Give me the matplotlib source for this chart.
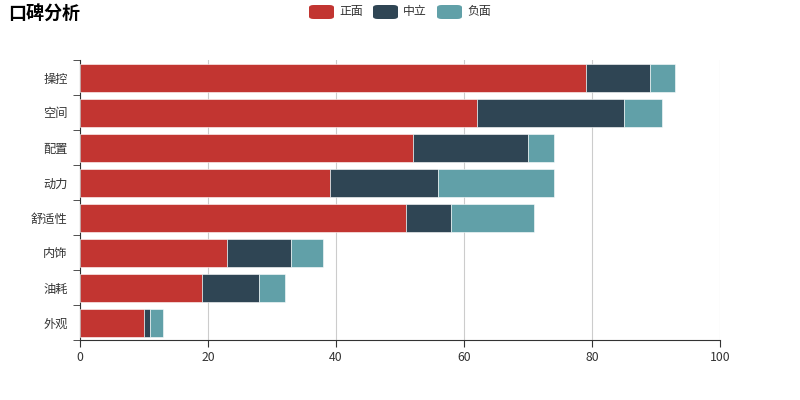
import matplotlib.pyplot as plt
import numpy as np
from matplotlib.patches import FancyBboxPatch

plt.rcParams['font.family'] = ['Noto Sans CJK SC', 'DejaVu Sans']

# data (top to bottom)
categories = ["操控", "空间", "配置", "动力", "舒适性", "内饰", "油耗", "外观"]
positive = [79, 62, 52, 39, 51, 23, 19, 10]
neutral = [10, 23, 18, 17, 7, 10, 9, 1]
negative = [4, 6, 4, 18, 13, 5, 4, 2]
series_names = ["正面", "中立", "负面"]
colors = ["#c23531", "#2f4554", "#61a0a8"]

fig = plt.figure(figsize=(8, 4), dpi=100)
ax = fig.add_axes([0.1, 0.15, 0.8, 0.7])

y = np.arange(len(categories))[::-1]
left = np.zeros(len(categories))
for vals, c, name in zip([positive, neutral, negative], colors, series_names):
    ax.barh(y, vals, left=left, height=0.8, color=c, edgecolor="white",
            linewidth=0.4, label=name, zorder=3)
    left = left + np.array(vals)

ax.set_xlim(0, 100)
ax.set_ylim(-0.5, len(categories) - 0.5)
ax.set_xticks([0, 20, 40, 60, 80, 100])
ax.set_yticks(y)
ax.set_yticklabels(categories)
ax.set_yticks(np.arange(-0.5, len(categories), 1), minor=True)
ax.tick_params(axis="y", which="major", length=0, pad=9)
ax.tick_params(axis="y", which="minor", length=5, color="#333333")
ax.tick_params(axis="x", length=5, color="#333333", pad=3)
ax.tick_params(labelsize=8.8, labelcolor="#333333")
ax.grid(axis="x", color="#cccccc", linewidth=0.8, zorder=0)
for s in ["top", "right"]:
    ax.spines[s].set_visible(False)
for s in ["left", "bottom"]:
    ax.spines[s].set_color("#333333")

fig.text(0.01, 0.965, "口碑分析", fontsize=13, fontweight="bold",
         color="#000000", va="center", ha="left")

# legend like echarts
lx = [309, 373, 437]
for x0, c, name in zip(lx, colors, series_names):
    fig.patches.append(FancyBboxPatch((x0 / 800, (400 - 19) / 400), 25 / 800, 14 / 400,
                                      boxstyle="round,pad=0,rounding_size=0.006",
                                      transform=fig.transFigure, facecolor=c,
                                      edgecolor="none"))
    fig.text((x0 + 30) / 800, (400 - 12) / 400, name, fontsize=8.6,
             color="#333333", va="center", ha="left")

fig.savefig("out.png")
